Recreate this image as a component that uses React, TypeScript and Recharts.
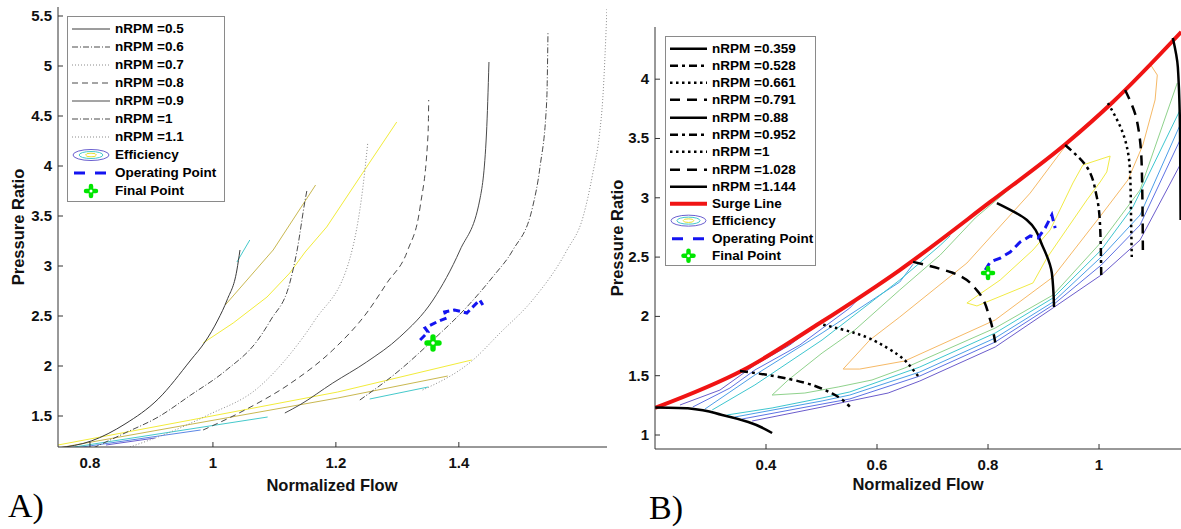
import React from 'react';
import { ComposedChart, Line, XAxis, YAxis } from 'recharts';

type P = [number, number];

const FONT = '"Liberation Sans", Arial, Helvetica, sans-serif';
const toPts = (a: P[]) => a.map(([x, y]) => ({ x, y }));

// ---------------- panel A ----------------
const xTicksA = [0.8, 1, 1.2, 1.4];
const yTicksA = [1.5, 2, 2.5, 3, 3.5, 4, 4.5, 5, 5.5];
const rpmA = [0.5, 0.6, 0.7, 0.8, 0.9, 1, 1.1];

const spdA050: P[] = [[0.748, 1.18], [0.802, 1.25], [0.857, 1.42], [0.911, 1.67], [0.964, 2.06], [0.987, 2.24], [1.008, 2.46], [1.023, 2.66], [1.039, 2.96], [1.044, 3.16]];
const spdA060: P[] = [[0.805, 1.18], [0.857, 1.33], [0.911, 1.49], [0.964, 1.71], [1.02, 1.95], [1.073, 2.26], [1.094, 2.46], [1.125, 2.83], [1.137, 3.16], [1.15, 3.66], [1.153, 3.76]];
const spdA070: P[] = [[0.865, 1.19], [0.927, 1.33], [0.992, 1.51], [1.073, 1.78], [1.127, 2.13], [1.166, 2.46], [1.223, 3.08], [1.244, 3.79], [1.252, 4.24]];
const spdA080: P[] = [[0.984, 1.36], [1.052, 1.56], [1.127, 1.83], [1.195, 2.16], [1.25, 2.53], [1.283, 2.83], [1.317, 3.16], [1.337, 3.59], [1.35, 4.33], [1.351, 4.66]];
const spdA090: P[] = [[1.117, 1.53], [1.141, 1.61], [1.195, 1.83], [1.25, 2.04], [1.304, 2.29], [1.358, 2.66], [1.402, 3.16], [1.434, 3.66], [1.445, 4.33], [1.449, 5.04]];
const spdA100: P[] = [[1.239, 1.66], [1.304, 1.96], [1.358, 2.26], [1.413, 2.59], [1.455, 2.89], [1.488, 3.16], [1.52, 3.59], [1.532, 3.99], [1.543, 4.66], [1.545, 5.34]];
const spdA110: P[] = [[1.341, 1.76], [1.423, 2.06], [1.467, 2.33], [1.52, 2.66], [1.576, 3.16], [1.602, 3.49], [1.618, 3.93], [1.629, 4.33], [1.634, 4.66], [1.641, 5.58]];
const speedA = [spdA050, spdA060, spdA070, spdA080, spdA090, spdA100, spdA110];
const speedDashA = ['', '6 2 1 2', '1 2', '6 4', '', '6 2 1 2', '1 2'];
const speedColorA = ['#3a3a3a', '#4a4a4a', '#8a8a8a', '#4a4a4a', '#4a4a4a', '#4a4a4a', '#8a8a8a'];

const effAYellowLow: P[] = [[0.748, 1.21], [0.964, 1.46], [1.203, 1.74], [1.421, 2.06]];
const effAOliveLow: P[] = [[0.748, 1.18], [1.203, 1.68], [1.382, 1.9]];
const effACyanLow1: P[] = [[0.764, 1.18], [1.089, 1.49]];
const effACyanLow2: P[] = [[1.255, 1.67], [1.35, 1.79]];
const effABlueLow: P[] = [[0.776, 1.18], [0.98, 1.36]];
const effAPurpleLow: P[] = [[0.826, 1.21], [0.906, 1.28]];
const effAYellowUp: P[] = [[0.984, 2.23], [1.033, 2.43], [1.088, 2.69], [1.125, 2.93], [1.15, 3.14], [1.185, 3.39], [1.25, 3.99], [1.299, 4.44]];
const effAOliveUp: P[] = [[1.02, 2.61], [1.098, 3.16], [1.167, 3.81]];
const effACyanUp: P[] = [[1.039, 3.04], [1.06, 3.26]];
const effA = [
  { pts: effAPurpleLow, color: '#6a5fcf' },
  { pts: effABlueLow, color: '#5b86e5' },
  { pts: effACyanLow1, color: '#45c9cb' },
  { pts: effACyanLow2, color: '#45c9cb' },
  { pts: effACyanUp, color: '#45c9cb' },
  { pts: effAOliveLow, color: '#c9b850' },
  { pts: effAOliveUp, color: '#c9b850' },
  { pts: effAYellowLow, color: '#f2ec3a' },
  { pts: effAYellowUp, color: '#f2ec3a' },
];

const opA: P[] = [[1.337, 2.26], [1.35, 2.34], [1.345, 2.38], [1.364, 2.44], [1.38, 2.48], [1.377, 2.54], [1.393, 2.56], [1.413, 2.53], [1.421, 2.58], [1.434, 2.66], [1.439, 2.61]];
const finalA: P[] = [[1.358, 2.23]];

// ---------------- panel B ----------------
const xTicksB = [0.4, 0.6, 0.8, 1];
const yTicksB = [1, 1.5, 2, 2.5, 3, 3.5, 4];
const rpmB = [0.359, 0.528, 0.661, 0.791, 0.88, 0.952, 1, 1.028, 1.144];

const surgeB: P[] = [[0.2, 1.228], [0.359, 1.548], [0.497, 1.944], [0.641, 2.391], [0.804, 2.965], [0.942, 3.462], [1.025, 3.808], [1.148, 4.398]];
const spdB0359: P[] = [[0.2, 1.232], [0.259, 1.226], [0.321, 1.169], [0.368, 1.11], [0.411, 1.017]];
const spdB0528: P[] = [[0.353, 1.54], [0.411, 1.5], [0.47, 1.44], [0.519, 1.35], [0.551, 1.24]];
const spdB0661: P[] = [[0.503, 1.93], [0.56, 1.86], [0.62, 1.73], [0.65, 1.63], [0.665, 1.55], [0.677, 1.48]];
const spdB0791: P[] = [[0.665, 2.46], [0.735, 2.37], [0.78, 2.22], [0.804, 1.97], [0.813, 1.78]];
const spdB0880: P[] = [[0.816, 2.956], [0.87, 2.813], [0.899, 2.585], [0.915, 2.366], [0.919, 2.079]];
const spdB0952: P[] = [[0.939, 3.445], [0.978, 3.26], [0.996, 3.007], [1.002, 2.754], [1.004, 2.332]];
const spdB1000: P[] = [[1.016, 3.799], [1.043, 3.546], [1.056, 3.209], [1.058, 2.754], [1.059, 2.501]];
const spdB1028: P[] = [[1.047, 3.909], [1.068, 3.656], [1.077, 3.26], [1.079, 2.56]];
const spdB1144: P[] = [[1.133, 4.347], [1.142, 4.103], [1.146, 3.546], [1.147, 2.813]];
const speedB = [spdB0359, spdB0528, spdB0661, spdB0791, spdB0880, spdB0952, spdB1000, spdB1028, spdB1144];
const speedDashB = ['', '8 4 3 4', '2.5 3.5', '10 7', '', '8 4 3 4', '2.5 3.5', '10 7', ''];

const effBPurpleUp: P[] = [[0.245, 1.253], [0.317, 1.379], [0.38, 1.59], [0.443, 1.759], [0.501, 1.97]];
const effBPurpleLow: P[] = [[0.375, 1.118], [0.501, 1.236], [0.542, 1.278], [0.62, 1.354], [0.677, 1.455], [0.813, 1.742], [0.917, 2.071], [1.004, 2.349], [1.074, 2.644], [1.146, 3.277]];
const effBBlueUp: P[] = [[0.268, 1.236], [0.335, 1.396], [0.38, 1.548], [0.461, 1.759], [0.551, 2.071], [0.575, 2.19]];
const effBBlueLow: P[] = [[0.357, 1.135], [0.501, 1.261], [0.551, 1.304], [0.677, 1.497], [0.813, 1.784], [0.917, 2.096], [1.004, 2.433], [1.074, 2.771], [1.146, 3.487]];
const effBLBlueUp: P[] = [[0.29, 1.219], [0.38, 1.506], [0.501, 1.86], [0.605, 2.18], [0.641, 2.29], [0.665, 2.44]];
const effBLBlueLow: P[] = [[0.344, 1.152], [0.501, 1.287], [0.551, 1.337], [0.677, 1.531], [0.813, 1.818], [0.917, 2.121], [1.004, 2.501], [1.074, 2.855], [1.146, 3.614]];
const effBCyanUp: P[] = [[0.303, 1.211], [0.38, 1.422], [0.501, 1.801], [0.641, 2.307], [0.714, 2.6], [0.732, 2.68]];
const effBCyanLow: P[] = [[0.33, 1.169], [0.411, 1.228], [0.501, 1.312], [0.551, 1.363], [0.677, 1.573], [0.813, 1.86], [0.917, 2.155], [1.004, 2.56], [1.061, 2.922], [1.146, 3.74]];
const effBGreen: P[] = [[0.858, 3.15], [0.777, 2.83], [0.714, 2.518], [0.641, 2.223], [0.56, 1.885], [0.501, 1.691], [0.44, 1.464], [0.411, 1.337], [0.47, 1.354], [0.53, 1.405], [0.591, 1.464], [0.65, 1.565], [0.813, 1.902], [0.917, 2.18], [1.004, 2.627], [1.074, 3.066], [1.141, 3.968]];
const effBOrange: P[] = [[0.539, 1.556], [0.587, 1.801], [0.641, 1.995], [0.762, 2.45], [0.876, 3.04], [0.953, 3.521], [1.02, 3.791], [1.092, 4.128], [1.105, 4.035], [1.101, 3.825], [1.079, 3.445], [1.052, 3.15], [1.004, 2.855], [0.917, 2.332], [0.813, 1.97], [0.65, 1.624], [0.569, 1.556], [0.539, 1.556]];
const effBYellow: P[] = [[0.762, 2.113], [0.822, 2.307], [0.881, 2.56], [0.912, 2.729], [0.953, 3.125], [0.971, 3.277], [1.02, 3.352], [1.014, 3.218], [1.002, 3.133], [0.978, 2.981], [0.906, 2.492], [0.881, 2.282], [0.78, 2.088], [0.762, 2.113]];
const effB = [
  { pts: effBPurpleUp, color: '#6b5ccc' },
  { pts: effBPurpleLow, color: '#6b5ccc' },
  { pts: effBBlueUp, color: '#5d72e4' },
  { pts: effBBlueLow, color: '#5d72e4' },
  { pts: effBLBlueUp, color: '#4c9ee8' },
  { pts: effBLBlueLow, color: '#4c9ee8' },
  { pts: effBCyanUp, color: '#3ec6cf' },
  { pts: effBCyanLow, color: '#3ec6cf' },
  { pts: effBGreen, color: '#8fd28c' },
  { pts: effBOrange, color: '#f6b966' },
  { pts: effBYellow, color: '#f1eb45' },
];

const opB: P[] = [[0.795, 2.391], [0.804, 2.459], [0.822, 2.492], [0.84, 2.543], [0.858, 2.627], [0.876, 2.678], [0.89, 2.661], [0.903, 2.745], [0.915, 2.855], [0.921, 2.745]];
const finalB: P[] = [[0.8, 2.366]];

// ---------------- helpers ----------------
function XTick(props: any) {
  const { x, y, payload } = props;
  return (
    <g>
      <line x1={x} x2={x} y1={y} y2={y - 5} stroke="#333" />
      <text x={x} y={y + 21} textAnchor="middle" fontFamily={FONT} fontWeight="bold" fontSize={15} fill="#111">
        {String(payload.value)}
      </text>
    </g>
  );
}

function YTick(props: any) {
  const { x, y, payload } = props;
  return (
    <g>
      <line x1={x} x2={x + 5} y1={y} y2={y} stroke="#333" />
      <text x={x - 6} y={y + 5} textAnchor="end" fontFamily={FONT} fontWeight="bold" fontSize={15} fill="#111">
        {String(payload.value)}
      </text>
    </g>
  );
}

function finalDot(size: number) {
  return (props: any) => {
    const { cx, cy } = props;
    if (cx == null || cy == null) return <g />;
    return (
      <g>
        <path d={`M${cx - size},${cy}H${cx + size}M${cx},${cy - size}V${cy + size}`} stroke="#00e600" strokeWidth={size * 0.9} strokeLinecap="round" />
        <circle cx={cx} cy={cy} r={size * 0.3} fill="#fff" />
      </g>
    );
  };
}

const lineBase = { dataKey: 'y', dot: false, activeDot: false, isAnimationActive: false, legendType: 'none' as const };

function PanelA() {
  return (
    <ComposedChart width={620} height={529} margin={{ top: 7, right: 13, bottom: 0, left: 0 }}>
      <XAxis type="number" dataKey="x" domain={[0.748, 1.641]} ticks={xTicksA} allowDataOverflow height={82} tickSize={0} tickMargin={0} interval={0} axisLine={{ stroke: '#333' }} tickLine={false} tick={(p: any) => <XTick {...p} />} />
      <YAxis type="number" dataKey="y" domain={[1.19, 5.59]} ticks={yTicksA} allowDataOverflow width={58} tickSize={0} tickMargin={0} interval={0} axisLine={{ stroke: '#333' }} tickLine={false} tick={(p: any) => <YTick {...p} />} />
      {effA.map((e, i) => (
        <Line key={'ea' + i} name={'effA' + i} {...lineBase} data={toPts(e.pts)} type="linear" stroke={e.color} strokeWidth={1} />
      ))}
      {speedA.map((s, i) => (
        <Line key={'sa' + i} name={`nRPM =${rpmA[i]}`} {...lineBase} data={toPts(s)} type="monotone" stroke={speedColorA[i]} strokeWidth={1} strokeDasharray={speedDashA[i] || undefined} />
      ))}
      <Line name="Operating Point" {...lineBase} data={toPts(opA)} type="linear" stroke="#1414f0" strokeWidth={3} strokeDasharray="7 4" />
      <Line name="Final Point" {...lineBase} data={toPts(finalA)} stroke="none" dot={finalDot(6)} />
    </ComposedChart>
  );
}

function PanelB() {
  return (
    <ComposedChart width={581} height={529} margin={{ top: 27, right: 0, bottom: 0, left: 0 }}>
      <XAxis type="number" dataKey="x" domain={[0.2, 1.1477]} ticks={xTicksB} allowDataOverflow height={80} tickSize={0} tickMargin={0} interval={0} axisLine={{ stroke: '#333' }} tickLine={false} tick={(p: any) => <XTick {...p} />} />
      <YAxis type="number" dataKey="y" domain={[0.882, 4.44]} ticks={yTicksB} allowDataOverflow width={55} tickSize={0} tickMargin={0} interval={0} axisLine={{ stroke: '#333' }} tickLine={false} tick={(p: any) => <YTick {...p} />} />
      {effB.map((e, i) => (
        <Line key={'eb' + i} name={'effB' + i} {...lineBase} data={toPts(e.pts)} type="linear" stroke={e.color} strokeWidth={1} />
      ))}
      <Line name="Surge Line" {...lineBase} data={toPts(surgeB)} type="monotone" stroke="#f01414" strokeWidth={4} />
      {speedB.map((s, i) => (
        <Line key={'sb' + i} name={`nRPM =${rpmB[i]}`} {...lineBase} data={toPts(s)} type="monotoneY" stroke="#000" strokeWidth={2.5} strokeDasharray={speedDashB[i] || undefined} />
      ))}
      <Line name="Operating Point" {...lineBase} data={toPts(opB)} type="linear" stroke="#1414f0" strokeWidth={3} strokeDasharray="8 5" />
      <Line name="Final Point" {...lineBase} data={toPts(finalB)} stroke="none" dot={finalDot(5)} />
    </ComposedChart>
  );
}

// ---------------- legends ----------------
type Entry = { label: string; kind: 'line' | 'eff' | 'op' | 'final'; color?: string; width?: number; dash?: string };

const legendEntriesA: Entry[] = [
  ...rpmA.map((r, i) => ({ label: `nRPM =${r}`, kind: 'line' as const, color: speedColorA[i], width: 1, dash: speedDashA[i] })),
  { label: 'Efficiency', kind: 'eff' },
  { label: 'Operating Point', kind: 'op' },
  { label: 'Final Point', kind: 'final' },
];

const legendEntriesB: Entry[] = [
  ...rpmB.map((r, i) => ({ label: `nRPM =${r}`, kind: 'line' as const, color: '#000', width: 2.5, dash: speedDashB[i] })),
  { label: 'Surge Line', kind: 'line', color: '#f01414', width: 4, dash: '' },
  { label: 'Efficiency', kind: 'eff' },
  { label: 'Operating Point', kind: 'op' },
  { label: 'Final Point', kind: 'final' },
];

function Sample({ e, w, h }: { e: Entry; w: number; h: number }) {
  const cy = h / 2;
  let g: React.ReactNode = null;
  if (e.kind === 'line') {
    g = <line x1={0} x2={w} y1={cy} y2={cy} stroke={e.color} strokeWidth={e.width} strokeDasharray={e.dash || undefined} />;
  } else if (e.kind === 'eff') {
    g = (
      <g fill="none" strokeWidth={1}>
        <ellipse cx={w / 2} cy={cy} rx={w / 2 - 1} ry={5.5} stroke="#6a5fcf" />
        <ellipse cx={w / 2} cy={cy} rx={w / 3.2} ry={3.5} stroke="#45c9cb" />
        <ellipse cx={w / 2} cy={cy} rx={w / 7} ry={1.8} stroke="#e8e030" />
      </g>
    );
  } else if (e.kind === 'op') {
    g = <line x1={2} x2={w - 2} y1={cy} y2={cy} stroke="#1414f0" strokeWidth={3} strokeDasharray="11 10" />;
  } else {
    g = (
      <g>
        <path d={`M${w / 2 - 5},${cy}H${w / 2 + 5}M${w / 2},${cy - 5}V${cy + 5}`} stroke="#00e600" strokeWidth={4.5} strokeLinecap="round" />
        <circle cx={w / 2} cy={cy} r={1.5} fill="#fff" />
      </g>
    );
  }
  return (
    <svg width={w} height={h} style={{ display: 'block', flex: 'none' }}>
      {g}
    </svg>
  );
}

function LegendBox({ entries, left, top, width, rowH, padTop, sampleW }: { entries: Entry[]; left: number; top: number; width: number; rowH: number; padTop: number; sampleW: number }) {
  return (
    <div
      style={{
        position: 'absolute', left, top, width, boxSizing: 'border-box', border: '1px solid #8a8a8a', background: '#fff',
        paddingTop: padTop, paddingLeft: 4, paddingBottom: 1, fontFamily: FONT, fontWeight: 'bold', fontSize: 13.5, color: '#000',
      }}
    >
      {entries.map((e) => (
        <div key={e.label} style={{ display: 'flex', alignItems: 'center', height: rowH, whiteSpace: 'nowrap' }}>
          <Sample e={e} w={sampleW} h={rowH} />
          <span style={{ marginLeft: 5, lineHeight: `${rowH}px` }}>{e.label}</span>
        </div>
      ))}
    </div>
  );
}

export default function App() {
  const title = { fontFamily: FONT, fontWeight: 'bold' as const, fontSize: 16.5, fill: '#111' };
  return (
    <div style={{ position: 'absolute', left: 0, top: 0, width: 1181, height: 529, background: '#fff', overflow: 'hidden' }}>
      <div style={{ position: 'absolute', left: 0, top: 0 }}>
        <PanelA />
      </div>
      <div style={{ position: 'absolute', left: 600, top: 0 }}>
        <PanelB />
      </div>
      <LegendBox entries={legendEntriesA} left={67} top={16} width={158} rowH={18} padTop={3} sampleW={38} />
      <LegendBox entries={legendEntriesB} left={665} top={36} width={151} rowH={17.3} padTop={2.5} sampleW={37} />
      <svg width={1181} height={529} style={{ position: 'absolute', left: 0, top: 0, pointerEvents: 'none' }}>
        <text x={24} y={227} transform="rotate(-90 24 227)" textAnchor="middle" {...title}>Pressure Ratio</text>
        <text x={623} y={238} transform="rotate(-90 623 238)" textAnchor="middle" {...title}>Pressure Ratio</text>
        <text x={332} y={491} textAnchor="middle" {...title}>Normalized Flow</text>
        <text x={918} y={490} textAnchor="middle" {...title}>Normalized Flow</text>
        <text x={8} y={517} fontFamily='"Liberation Serif", "Times New Roman", serif' fontSize={34} fill="#000">A)</text>
        <text x={649} y={519} fontFamily='"Liberation Serif", "Times New Roman", serif' fontSize={34} fill="#000">B)</text>
      </svg>
    </div>
  );
}
